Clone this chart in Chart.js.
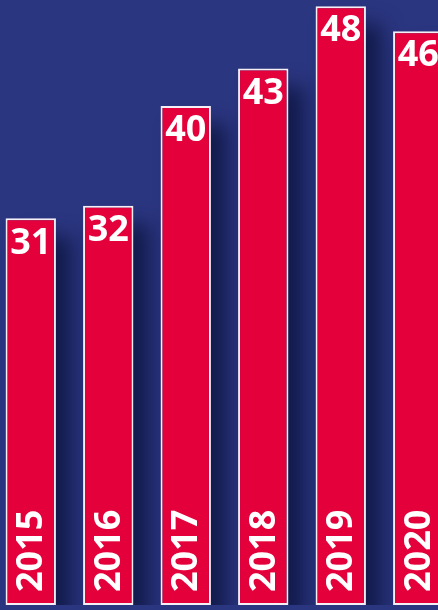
<!DOCTYPE html>
<html>
<head>
<meta charset="utf-8">
<script src="https://cdn.jsdelivr.net/npm/chart.js@4"></script>
<style>
  html, body { margin: 0; padding: 0; background: #2b3681; overflow: hidden; }
  body { width: 438px; height: 610px; position: relative; }
  .grafico-container { position: absolute; left: -8px; top: 0; width: 465px; height: 605px; }
</style>
</head>
<body>
<div class="grafico-container"><canvas id="grafico"></canvas></div>
<script>
const anios = ['2015', '2016', '2017', '2018', '2019', '2020'];
const valores = [31, 32, 40, 43, 48, 46];

const rojo = '#e4003a';
const blanco = '#f4f0f6';

// sombra difusa a la derecha de cada barra
const sombraBarras = {
  id: 'sombraBarras',
  beforeDatasetsDraw(chart) {
    const ctx = chart.ctx;
    const barras = chart.getDatasetMeta(0).data;
    ctx.save();
    ctx.shadowColor = 'rgba(14, 22, 66, 0.85)';
    ctx.shadowBlur = 20;
    ctx.shadowOffsetX = 10000 + 16;
    ctx.shadowOffsetY = 18;
    ctx.fillStyle = '#000';
    barras.forEach(function(barra) {
      const p = barra.getProps(['x', 'y', 'base', 'width'], true);
      ctx.fillRect(p.x - p.width / 2 - 10000, p.y, p.width, p.base - p.y);
    });
    ctx.restore();
  }
};

// textos: valor arriba, año vertical abajo
const etiquetas = {
  id: 'etiquetas',
  afterDatasetsDraw(chart) {
    const ctx = chart.ctx;
    const barras = chart.getDatasetMeta(0).data;
    ctx.save();
    ctx.fillStyle = '#ffffff';
    ctx.font = 'bold 36px "Open Sans"';
    barras.forEach(function(barra, i) {
      const p = barra.getProps(['x', 'y', 'base'], true);
      ctx.textAlign = 'center';
      ctx.textBaseline = 'middle';
      ctx.fillText(String(valores[i]), p.x, p.y + 25);

      ctx.save();
      ctx.translate(p.x, p.base - 13);
      ctx.rotate(-Math.PI / 2);
      ctx.textAlign = 'left';
      ctx.textBaseline = 'middle';
      ctx.fillText(anios[i], 0, 1);
      ctx.restore();
    });
    ctx.restore();
  }
};

new Chart(document.getElementById('grafico'), {
  type: 'bar',
  data: {
    labels: anios,
    datasets: [{
      data: valores,
      backgroundColor: rojo,
      borderColor: blanco,
      borderWidth: 2,
      borderSkipped: false,
      barPercentage: 0.65,
      categoryPercentage: 1
    }]
  },
  options: {
    responsive: true,
    maintainAspectRatio: false,
    animation: false,
    layout: { padding: 0 },
    plugins: {
      legend: { display: false },
      tooltip: { enabled: false }
    },
    scales: {
      x: { display: false, offset: true },
      y: { display: false, min: 0, max: 48.5 }
    }
  },
  plugins: [sombraBarras, etiquetas]
});
</script>
</body>
</html>
